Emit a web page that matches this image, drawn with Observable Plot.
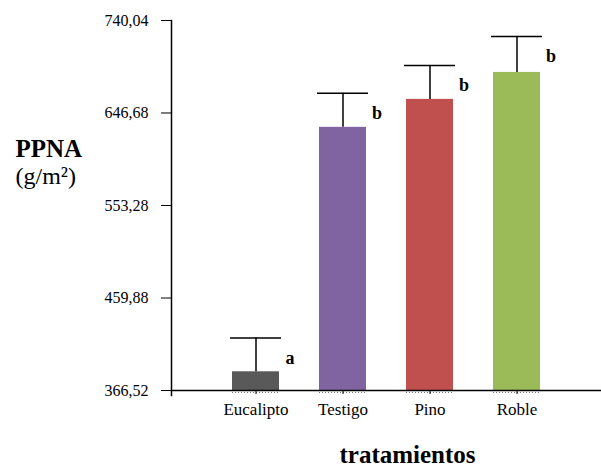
<!DOCTYPE html>
<html>
<head>
<meta charset="utf-8">
<script src="https://cdn.jsdelivr.net/npm/d3@7"></script>
<script src="https://cdn.jsdelivr.net/npm/@observablehq/plot@0.6"></script>
<style>
  html, body { margin: 0; padding: 0; background: #fff; }
  #chart svg { display: block; }
</style>
</head>
<body>
<div id="chart"></div>
<script>
const categories = ["Eucalipto", "Testigo", "Pino", "Roble"];
const means = [385.4, 632.2, 660.4, 687.6];
const errors = [34.2, 34.3, 34.3, 36.3];
const letters = ["a", "b", "b", "b"];
const colors = ["#595959", "#8064A2", "#C0504D", "#9BBB59"];
const yTicks = [366.52, 459.88, 553.28, 646.68, 740.04];
const yTickLabels = ["366,52", "459,88", "553,28", "646,68", "740,04"];
const yMin = 366.52, yMax = 740.04;

const data = categories.map((c, i) => ({
  cat: c, mean: means[i], top: means[i] + errors[i], letter: letters[i], color: colors[i]
}));

const SERIF = "Liberation Serif";

const chart = Plot.plot({
  width: 601,
  height: 466,
  marginLeft: 171,
  marginRight: 0,
  marginTop: 20,
  marginBottom: 76,
  style: "font-family: 'Liberation Serif', serif; font-size: 16px; color: #000; background: #fff;",
  x: { domain: categories, paddingInner: 0.46, paddingOuter: 0.7, label: null },
  y: { domain: [yMin, yMax], label: null },
  marks: [
    Plot.barY(data, { x: "cat", y1: () => yMin, y2: "mean", fill: "color" }),
    Plot.tickY(data, { x: "cat", y: () => yMin, stroke: "#777", strokeDasharray: "1,2", strokeWidth: 1, dy: 2 }),
    Plot.ruleX(data, { x: "cat", y1: "mean", y2: "top", stroke: "#000", strokeWidth: 1.5 }),
    Plot.tickY(data, { x: "cat", y: "top", stroke: "#000", strokeWidth: 1.5, insetLeft: -2, insetRight: -2 }),
    Plot.text(data, { x: "cat", y: "top", text: "letter", dx: 34, dy: 20, fontWeight: "bold", fontSize: 18, fontFamily: SERIF, fill: "#000" }),
    Plot.ruleY([yMin], { stroke: "#000", strokeWidth: 1.5 }),
    Plot.frame({ anchor: "left", stroke: "#000", strokeWidth: 1.5, insetBottom: -5 }),
    Plot.axisY({ ticks: yTicks, tickFormat: d => yTickLabels[yTicks.indexOf(d)], tickSize: 10, tickPadding: 13, label: null, fontSize: 16, fontFamily: SERIF }),
    Plot.axisX({ tickSize: 4, tickPadding: 8, label: null, fontSize: 17, fontFamily: SERIF }),
    Plot.text(["PPNA"], { frameAnchor: "top-left", lineAnchor: "middle", dx: -156, dy: 128, text: d => d, textAnchor: "start", fontWeight: "bold", fontSize: 25, fontFamily: SERIF, fill: "#000" }),
    Plot.text(["(g/m²)"], { frameAnchor: "top-left", lineAnchor: "middle", dx: -156, dy: 156, text: d => d, textAnchor: "start", fontSize: 24, fontFamily: SERIF, fill: "#000" }),
    Plot.text(["tratamientos"], { frameAnchor: "bottom", lineAnchor: "middle", dx: 21, dy: 64, text: d => d, fontWeight: "bold", fontSize: 25, fontFamily: SERIF, fill: "#000" })
  ]
});
document.getElementById("chart").appendChild(chart);
</script>
</body>
</html>
